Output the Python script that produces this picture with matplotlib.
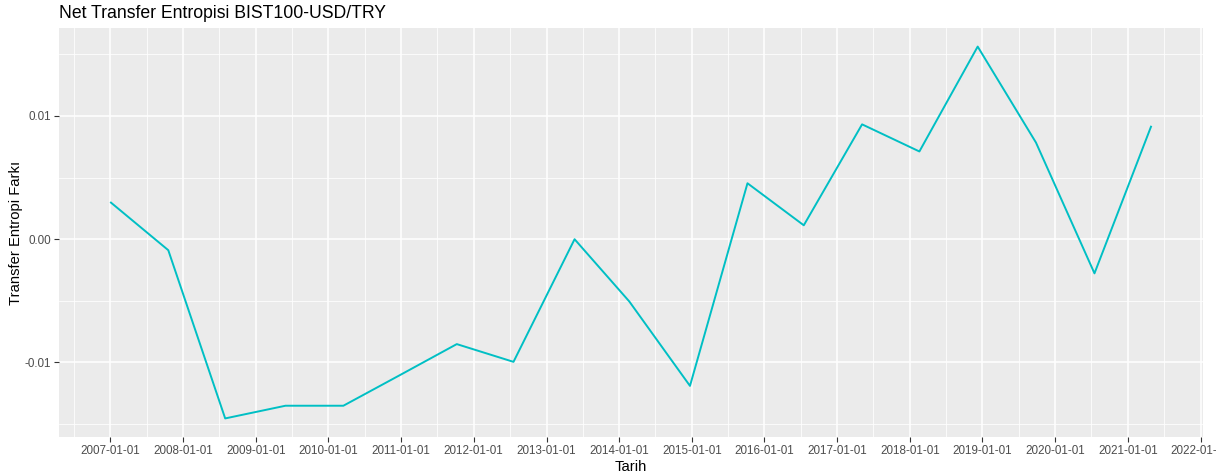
import numpy as np
import pandas as pd
import matplotlib
matplotlib.use("Agg")
import matplotlib.pyplot as plt
import matplotlib.dates as mdates

# data
dates = ["2007-01-04", "2007-10-19", "2008-07-31", "2009-05-30", "2010-03-17",
         "2010-12-28", "2011-10-08", "2012-07-19", "2013-05-22", "2014-02-21",
         "2014-12-23", "2015-10-08", "2016-07-17", "2017-05-06", "2018-02-18",
         "2018-12-08", "2019-09-27", "2020-07-17", "2021-04-27"]
net_te = [0.00297, -0.00089, -0.01454, -0.01351, -0.01351,
          -0.01101, -0.00851, -0.00995, 0.00000, -0.00505,
          -0.01190, 0.00454, 0.00113, 0.00932, 0.00712,
          0.01563, 0.00784, -0.00277, 0.00913]
year_ticks = list(range(2007, 2023))
y_ticks = [-0.01, 0.0, 0.01]
y_labels = ["-0.01", "0.00", "0.01"]

x = pd.to_datetime(dates)
y = np.array(net_te)

plt.rcParams['font.family'] = ['Liberation Sans', 'DejaVu Sans']

fig = plt.figure(figsize=(12.16, 4.76), dpi=100)
ax = fig.add_axes([0.0485, 0.0819, 0.9408, 0.8593])
ax.set_facecolor("#EBEBEB")

ax.plot(x, y, color="#00BFC4", lw=1.4, zorder=3)

# ggplot-like expansion of 5%
xn = mdates.date2num(x)
xr = xn.max() - xn.min()
ax.set_xlim(xn.min() - 0.05 * xr, xn.max() + 0.05 * xr)
yr = y.max() - y.min()
ax.set_ylim(y.min() - 0.05 * yr, y.max() + 0.05 * yr)

major = [pd.Timestamp(f"{yy}-01-01") for yy in year_ticks]
minor = [pd.Timestamp(f"{yy}-07-02") for yy in range(2006, 2022)]
ax.set_xticks(major)
ax.set_xticklabels([d.strftime("%Y-%m-%d") for d in major])
ax.set_xticks(minor, minor=True)
ax.set_yticks(y_ticks)
ax.set_yticklabels(y_labels)
ax.set_yticks([-0.015, -0.005, 0.005, 0.015], minor=True)

ax.grid(which="major", color="white", lw=1.1, zorder=1)
ax.grid(which="minor", color="white", lw=0.55, zorder=1)
ax.set_axisbelow(True)
for s in ax.spines.values():
    s.set_visible(False)

ax.tick_params(which="major", length=3.5, width=0.8, color="#333333",
               labelcolor="#4D4D4D", labelsize=8.4, pad=2.5)
ax.tick_params(which="minor", length=0)

ax.set_xlabel("Tarih", fontsize=10.6, color="black", labelpad=2)
ax.set_ylabel("Transfer Entropi Farkı", fontsize=10.6, color="black", labelpad=1)
ax.set_title("Net Transfer Entropisi BIST100-USD/TRY", loc="left",
             fontsize=12.7, color="black", pad=7)

fig.savefig("out.png", dpi=100)
